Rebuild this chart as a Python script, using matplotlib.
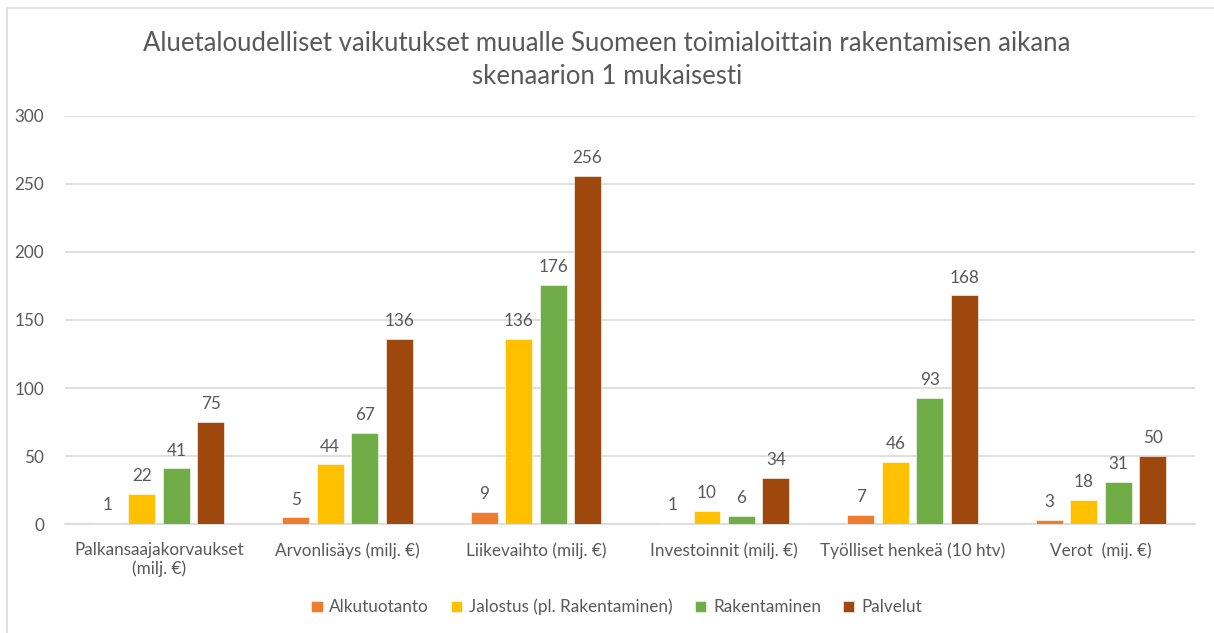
import numpy as np
import matplotlib
matplotlib.use("Agg")
import matplotlib.pyplot as plt
from matplotlib.patches import Rectangle

# data
categories = ["Palkansaajakorvaukset\n(milj. €)", "Arvonlisäys (milj. €)", "Liikevaihto (milj. €)",
              "Investoinnit (milj. €)", "Työlliset henkeä (10 htv)", "Verot  (mij. €)"]
series_names = ["Alkutuotanto", "Jalostus (pl. Rakentaminen)", "Rakentaminen", "Palvelut"]
alkutuotanto = [1, 5, 9, 1, 7, 3]
jalostus = [22, 44, 136, 10, 46, 18]
rakentaminen = [41, 67, 176, 6, 93, 31]
palvelut = [75, 136, 256, 34, 168, 50]
colors = ["#ED7D31", "#FFC000", "#70AD47", "#9E480E"]

plt.rcParams['font.family'] = ['Lato', 'DejaVu Sans']
txt = "#595959"

fig = plt.figure(figsize=(12.14, 6.33), dpi=100)
ax = fig.add_axes([0.0535, 0.172, 0.931, 0.645])

x = np.arange(len(categories))
step = 0.183
width = 0.143
for i, (name, vals) in enumerate(zip(series_names, [alkutuotanto, jalostus, rakentaminen, palvelut])):
    pos = x + (i - 1.5) * step
    bars = ax.bar(pos, vals, width, color=colors[i], label=name, zorder=3,
                  edgecolor="white", linewidth=0.4)
    for b, v in zip(bars, vals):
        ax.annotate(str(v), (b.get_x() + b.get_width() / 2, v), xytext=(0, 7),
                    textcoords="offset points", ha="center", va="bottom",
                    fontsize=12.3, color=txt)

ax.set_xlim(-0.5, len(categories) - 0.5)
ax.set_ylim(0, 300)
ax.set_yticks(range(0, 301, 50))
ax.yaxis.grid(True, color="#D9D9D9", linewidth=1.2, zorder=0)
ax.set_axisbelow(True)
for s in ["top", "right", "left"]:
    ax.spines[s].set_visible(False)
ax.spines["bottom"].set_color("#D9D9D9")
ax.spines["bottom"].set_linewidth(1.2)
ax.set_xticks(x)
ax.set_xticklabels(categories, fontsize=12.3, color=txt)
ax.tick_params(axis="x", length=0, pad=13)
ax.tick_params(axis="y", length=0, pad=15, labelsize=12.3, labelcolor=txt)

fig.text(0.5, 0.905, "Aluetaloudelliset vaikutukset muualle Suomeen toimialoittain rakentamisen aikana\nskenaarion 1 mukaisesti",
         ha="center", va="center", fontsize=18.5, color=txt, linespacing=1.4)

fig.legend(loc="center", bbox_to_anchor=(0.508, 0.041), ncol=4, frameon=False,
           fontsize=12.3, labelcolor=txt, handlelength=0.65, handleheight=0.65,
           handletextpad=0.4, columnspacing=1.3)

fig.patches.append(Rectangle((0.006, -0.05), 1.2, 1.037, transform=fig.transFigure,
                             fill=False, edgecolor="#D9D9D9", linewidth=1.2))

fig.savefig("out.png", dpi=100)
